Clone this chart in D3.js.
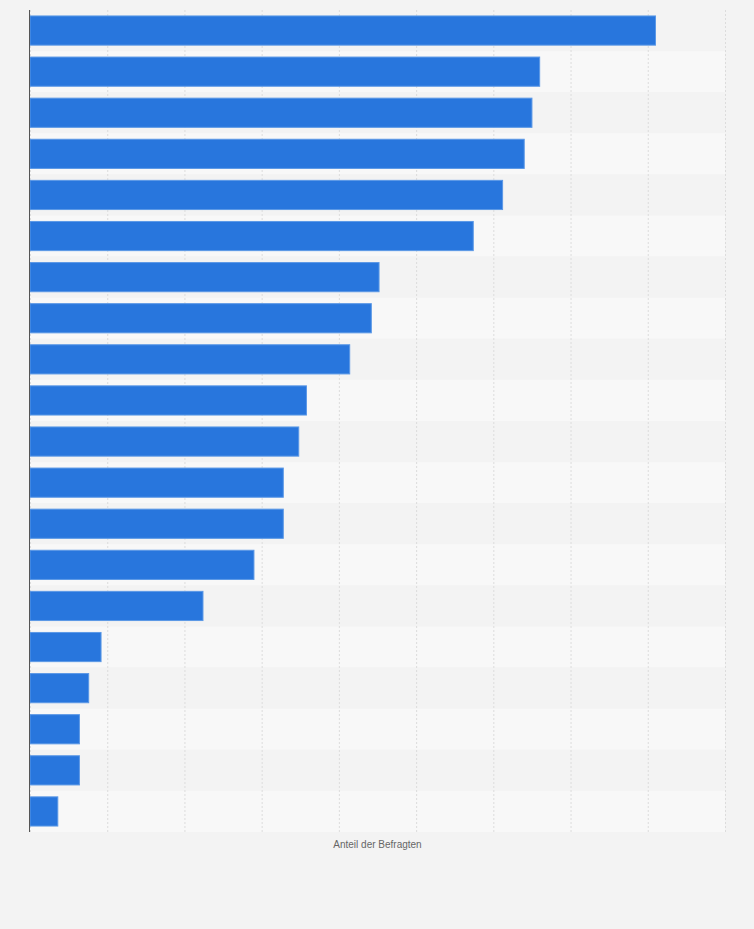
<!DOCTYPE html>
<html>
<head>
<meta charset="utf-8">
<style>
    body {
      margin: 0;
      background: #f3f3f3;
    }
    .grid line {
      stroke: #dcdcdc;
      stroke-dasharray: 2,2;
    }
    .bar {
      fill: #2876dd;
      stroke: #5b98e6;
      stroke-width: 1;
    }
    .axisTitle {
      font-family: "Liberation Sans", Arial, sans-serif;
      font-size: 10px;
      fill: #666;
    }
</style>
</head>
<body>
    <svg class="chart"></svg>

  <script src="https://d3js.org/d3.v7.min.js"></script>

<script>
// data (no category labels are shown in the picture)
    let categories = d3.range(1, 21).map(i => "Kategorie " + i);
    let values = [40.5, 33, 32.5, 32, 30.6, 28.7, 22.6, 22.1, 20.7, 17.9,
                  17.4, 16.4, 16.4, 14.5, 11.2, 4.6, 3.8, 3.2, 3.2, 1.8];
    let gridTicks = [0, 5, 10, 15, 20, 25, 30, 35, 40, 45];
    let axisTitle = "Anteil der Befragten";

    let width = 754, height = 929;
    let margin = {top: 10, right: 29, bottom: 97, left: 30};
    let innerW = width - margin.left - margin.right;
    let innerH = height - margin.top - margin.bottom;

    let svg = d3.select(".chart")
        .attr("width", width)
        .attr("height", height);

    let g = svg.append("g")
        .attr("transform", "translate(" + margin.left + "," + margin.top + ")");

    let xScale = d3.scaleLinear().domain([0, 45]).range([0, innerW]);
    let yScale = d3.scaleBand().domain(categories).range([0, innerH]).paddingInner(0.29).paddingOuter(0.145);
    let rowScale = d3.scaleBand().domain(categories).range([0, innerH]);

    // alternating row stripes
    g.selectAll(".row")
        .data(categories)
        .join("rect")
        .attr("class", "row")
        .attr("x", 0)
        .attr("y", d => rowScale(d))
        .attr("width", innerW)
        .attr("height", rowScale.bandwidth())
        .attr("fill", (d, i) => i % 2 ? "#f8f8f8" : "#f3f3f3");

    // vertical gridlines
    g.append("g")
        .attr("class", "grid")
        .call(d3.axisBottom(xScale).tickValues(gridTicks).tickSize(innerH).tickFormat(""))
        .call(a => a.select(".domain").remove());

    // bars
    g.selectAll(".bar")
        .data(values)
        .join("rect")
        .attr("class", "bar")
        .attr("x", 0)
        .attr("y", (d, i) => yScale(categories[i]))
        .attr("width", d => xScale(d))
        .attr("height", yScale.bandwidth());

    // left axis line
    g.append("line")
        .attr("x1", -0.5).attr("x2", -0.5)
        .attr("y1", 0).attr("y2", innerH)
        .attr("stroke", "#555")
        .attr("stroke-width", 1);

    g.append("text")
        .attr("class", "axisTitle")
        .attr("x", innerW / 2)
        .attr("y", innerH + 16)
        .attr("text-anchor", "middle")
        .text(axisTitle);
</script>
</body>
</html>
